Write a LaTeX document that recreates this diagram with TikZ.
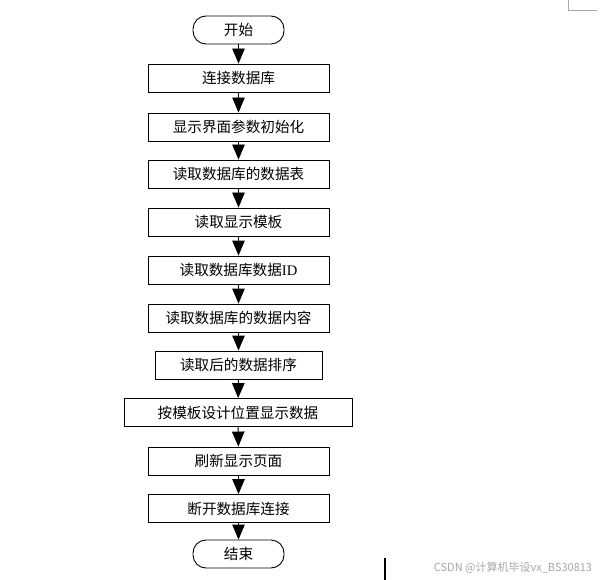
\documentclass[tikz,border=0pt]{standalone}
\usepackage{fontspec}
\setmainfont{Liberation Serif}
\newfontfamily\cjk{Noto Sans CJK SC}
\usetikzlibrary{arrows.meta,positioning}

\tikzset{
	stepbox/.style={draw,line width=0.9pt,minimum width=181pt,minimum height=28pt,inner sep=0pt,font=\fontsize{14.6}{16}\selectfont},
	termbox/.style={stepbox,minimum width=91pt,rounded corners=13pt},
	flow/.style={line width=0.9pt,-{Triangle[length=15pt,width=12.5pt]}}
}

\begin{document}
\begin{tikzpicture}[x=1pt,y=-1pt]
	\useasboundingbox (0,0) rectangle (602,580);
	
	% steps of the flow
	\node[termbox] (start) at (238.5,30) {\cjk 开始};
	\node[stepbox] (connect) at (238.5,78) {\cjk 连接数据库};
	\node[stepbox] (init) at (238.5,127) {\cjk 显示界面参数初始化};
	\node[stepbox] (table) at (238.5,174) {\cjk 读取数据库的数据表};
	\node[stepbox] (tmpl) at (238.5,222) {\cjk 读取显示模板};
	\node[stepbox] (ids) at (238.5,270) {{\cjk 读取数据库数据}ID};
	\node[stepbox] (content) at (238.5,318) {\cjk 读取数据库的数据内容};
	\node[stepbox,minimum width=167pt] (sort) at (238.5,365) {\cjk 读取后的数据排序};
	\node[stepbox,minimum width=228pt] (show) at (238,412.5) {\cjk 按模板设计位置显示数据};
	\node[stepbox] (refresh) at (238.5,461) {\cjk 刷新显示页面};
	\node[stepbox] (close) at (238.5,508.5) {\cjk 断开数据库连接};
	\node[termbox] (stop) at (238.5,554) {\cjk 结束};
	
	% arrows between the steps
	\draw[flow] (start) -- (connect);
	\draw[flow] (connect) -- (init);
	\draw[flow] (init) -- (table);
	\draw[flow] (table) -- (tmpl);
	\draw[flow] (tmpl) -- (ids);
	\draw[flow] (ids) -- (content);
	\draw[flow] (content) -- (sort);
	\draw[flow] (sort) -- (show);
	\draw[flow] (show) -- (refresh);
	\draw[flow] (refresh) -- (close);
	\draw[flow] (close) -- (stop);
	
	% page marks
	\draw[black!35,line width=0.8pt] (568,0) -- (568,10) -- (597,10);
	\draw[line width=2pt] (385,558) -- (385,580);
	\node[text=black!35,font=\fontsize{11}{12}\selectfont] (mark) at (513,568) {{\cjk CSDN @计算机毕设vx\_BS30813}};
\end{tikzpicture}
\end{document}
